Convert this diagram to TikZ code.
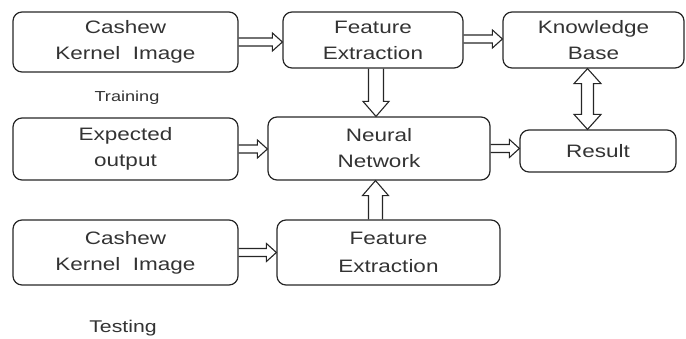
\documentclass[tikz,border=0pt]{standalone}
\usepackage{fontspec}
\setmainfont[FakeStretch=1.25]{Liberation Sans}
\usetikzlibrary{calc}
% hollow block arrow: #1 start, #2 end, #3 shaft half width, #4 head half width, #5 head length
\newcommand{\hollowarr}[5]{%
  \draw[arr] ($(#1)!#3!90:(#2)$) -- ($(#2)!#5!(#1)!#3!-90:(#1)$)
    -- ($(#2)!#5!(#1)!#4!-90:(#1)$) -- (#2)
    -- ($(#2)!#5!(#1)!#4!90:(#1)$) -- ($(#2)!#5!(#1)!#3!90:(#1)$)
    -- ($(#1)!#3!-90:(#2)$);}
% double-headed hollow block arrow
\newcommand{\hollowdarr}[5]{%
  \draw[arr] (#1) -- ($(#1)!#5!(#2)!#4!90:(#2)$) -- ($(#1)!#5!(#2)!#3!90:(#2)$)
    -- ($(#2)!#5!(#1)!#3!-90:(#1)$) -- ($(#2)!#5!(#1)!#4!-90:(#1)$) -- (#2)
    -- ($(#2)!#5!(#1)!#4!90:(#1)$) -- ($(#2)!#5!(#1)!#3!90:(#1)$)
    -- ($(#1)!#5!(#2)!#3!-90:(#2)$) -- ($(#1)!#5!(#2)!#4!-90:(#2)$) -- cycle;}
\begin{document}
\begin{tikzpicture}[x=1pt,y=-1pt,
  box/.style={draw=black!85, line width=1.2pt, rounded corners=9pt, align=center,
    text=black!80, font=\fontsize{18}{26}\selectfont, inner sep=0pt},
  arr/.style={draw=black!85, line width=1.1pt, line join=miter},
  lbl/.style={text=black!80, inner sep=0pt}]
\useasboundingbox (0,0) rectangle (686,339);
\node[box, minimum width=225pt, minimum height=60pt] (B1) at (125.5,42) {Cashew\\Kernel~~Image};
\node[box, minimum width=180pt, minimum height=56pt] (B2) at (373,40) {Feature\\Extraction};
\node[box, minimum width=181pt, minimum height=56pt] (B3) at (593.5,40) {Knowledge\\Base};
\node[box, minimum width=225pt, minimum height=62pt] (B4) at (125.5,149) {Expected\\output};
\node[box, minimum width=222pt, minimum height=63pt] (B5) at (379,148.5) {Neural\\Network};
\node[box, minimum width=156pt, minimum height=42pt] (B6) at (598,151) {Result};
\node[box, minimum width=225pt, minimum height=65pt] (B7) at (125.5,252.5) {Cashew\\Kernel~~Image};
\node[box, minimum width=223pt, minimum height=65pt, font=\fontsize{18}{28}\selectfont] (B8) at (388.5,252.5) {Feature\\Extraction};
\node[lbl, font=\fontsize{14.5}{17}\selectfont] (T1) at (127,98) {Training};
\node[lbl, font=\fontsize{17}{20}\selectfont] (T2) at (123,328) {Testing};
% connector end points
\coordinate (a1s) at (B1.east);
\coordinate (a1e) at (B1.east -| B2.west);
\coordinate (a2s) at ([yshift=1pt]B2.east);
\coordinate (a2e) at ([yshift=1pt]B2.east -| B3.west);
\coordinate (a3s) at ([xshift=3pt]B2.south);
\coordinate (a3e) at ([xshift=3pt]B2.south |- B5.north);
\coordinate (a4s) at ([xshift=-6pt]B3.south);
\coordinate (a4e) at ([xshift=-6pt]B3.south |- B6.north);
\coordinate (a5s) at (B4.east);
\coordinate (a5e) at (B4.east -| B5.west);
\coordinate (a6s) at (B5.east);
\coordinate (a6e) at (B5.east -| B6.west);
\coordinate (a7s) at (B7.east);
\coordinate (a7e) at (B7.east -| B8.west);
\coordinate (a8s) at ([xshift=-13pt]B8.north);
\coordinate (a8e) at ([xshift=-13pt]B8.north |- B5.south);
\hollowarr{a1s}{a1e}{4pt}{9pt}{10pt}
\hollowarr{a2s}{a2e}{4pt}{9pt}{10pt}
\hollowarr{a3s}{a3e}{7.5pt}{13pt}{15pt}
\hollowdarr{a4s}{a4e}{6pt}{13.5pt}{15pt}
\hollowarr{a5s}{a5e}{4pt}{9pt}{10pt}
\hollowarr{a6s}{a6e}{4pt}{9pt}{10pt}
\hollowarr{a7s}{a7e}{4pt}{9pt}{10pt}
\hollowarr{a8s}{a8e}{7pt}{13pt}{15pt}
\end{tikzpicture}
\end{document}
